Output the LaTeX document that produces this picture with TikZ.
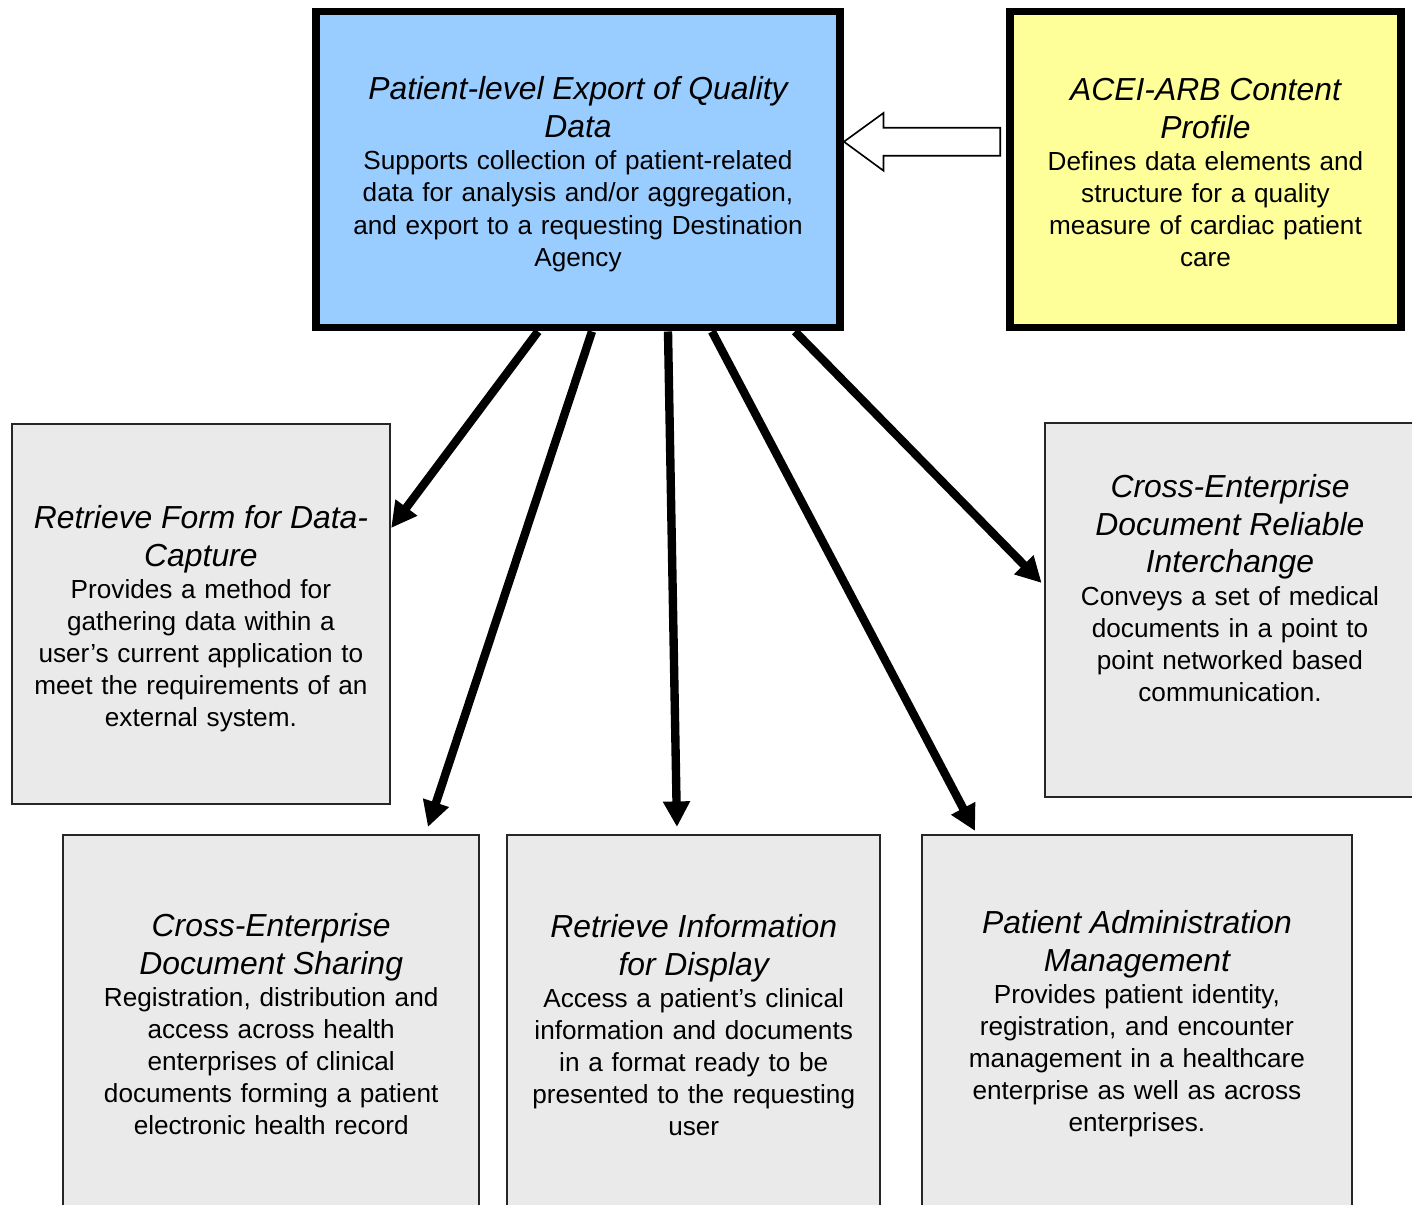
\documentclass[tikz,border=0pt]{standalone}
\usepackage{fontspec}
\setmainfont{Liberation Sans}
\usetikzlibrary{arrows.meta}

\definecolor{profblue}{HTML}{99CCFF}
\definecolor{profyellow}{HTML}{FFFF99}
\definecolor{actorgrey}{HTML}{EAEAEA}

\newcommand{\proftitle}{\fontsize{13.7}{16.3}\selectfont\itshape}
\newcommand{\profbody}{\fontsize{11.25}{13.8}\selectfont}

\tikzset{
  mainbox/.style={draw=black, line width=3.4pt, inner sep=0pt},
  greybox/.style={draw=black!85, line width=0.9pt, fill=actorgrey, inner sep=0pt},
  boxtext/.style={align=center, inner sep=0pt, font=\profbody},
  uses/.style={line width=3.6pt, -{Triangle[length=11pt,width=11pt]}},
  hollowarrow/.style={draw=black, line width=0.7pt, fill=white, line join=miter},
}

\begin{document}
\begin{tikzpicture}[x=0.43pt, y=-0.43pt]
\useasboundingbox (0,0) rectangle (1412,1204);
\clip (0,0) rectangle (1412,1204);
\fill[white] (0,0) rectangle (1412,1204);

% profiles
\node[mainbox, fill=profblue, minimum width=225.3pt, minimum height=135.9pt] (export) at (578,169.5) {};
\node[boxtext, text width=218pt] (exporttext) at ([yshift=-2pt]export.center)
  {{\proftitle Patient-level Export of Quality\\Data\par}Supports collection of patient-related\\data for analysis and/or aggregation,\\and export to a requesting Destination\\Agency};
\node[mainbox, fill=profyellow, minimum width=168.1pt, minimum height=135.9pt] (acei) at (1205.5,169.5) {};
\node[boxtext, text width=160pt] (aceitext) at ([yshift=-1.3pt]acei.center)
  {{\proftitle ACEI-ARB Content\\Profile\par}Defines data elements and\\structure for a quality\\measure of cardiac patient\\care};

% actors
\node[greybox, minimum width=162.7pt, minimum height=163.3pt] (form) at (200.9,614.2) {};
\node[boxtext, text width=156pt] (formtext) at ([yshift=-2pt]form.center)
  {{\proftitle Retrieve Form for Data-\\Capture\par}Provides a method for\\gathering data within a\\user’s current application to\\meet the requirements of an\\external system.};
\node[greybox, minimum width=159.1pt, minimum height=160.8pt] (xdr) at (1230,609.7) {};
\node[boxtext, text width=152pt] (xdrtext) at ([yshift=9.4pt]xdr.center)
  {{\proftitle Cross-Enterprise\\Document Reliable\\Interchange\par}Conveys a set of medical\\documents in a point to\\point networked based\\communication.};

\node[greybox, minimum width=178.8pt, minimum height=163.4pt] (xds) at (271.2,1025) {};
\node[boxtext, text width=172pt] (xdstext) at ([yshift=0.4pt]xds.center)
  {{\proftitle Cross-Enterprise\\Document Sharing\par}Registration, distribution and\\access across health\\enterprises of clinical\\documents forming a patient\\electronic health record};
\node[greybox, minimum width=160.3pt, minimum height=163.4pt] (rid) at (693.7,1025) {};
\node[boxtext, text width=154pt] (ridtext) at (rid.center)
  {{\proftitle Retrieve Information\\for Display\par}Access a patient’s clinical\\information and documents\\in a format ready to be\\presented to the requesting\\user};
\node[greybox, minimum width=184.8pt, minimum height=163.4pt] (pam) at (1136.9,1025) {};
\node[boxtext, text width=178pt] (pamtext) at ([yshift=0.6pt]pam.center)
  {{\proftitle Patient Administration\\Management\par}Provides patient identity,\\registration, and encounter\\management in a healthcare\\enterprise as well as across\\enterprises.};

% connectors
\draw[hollowarrow] (export.east |- 0,141.7) -- ++(39.5,-28.7) -- ++(0,14.7)
  -- ([xshift=-2.5pt]acei.west |- 0,127.7) -- ++(0,28)
  -- ([xshift=17pt]export.east |- 0,155.7) -- ++(0,15) -- cycle;

\draw[uses] ([xshift=-17.2pt]export.south) -- (form.east |- 0,528);
\draw[uses] ([xshift=6pt]export.south) -- ([xshift=67.4pt,yshift=3pt]xds.north);
\draw[uses] ([xshift=38.7pt]export.south) -- ([xshift=-7.2pt,yshift=3pt]rid.north);
\draw[uses] ([xshift=57.6pt]export.south) -- ([xshift=-69.6pt,yshift=1.3pt]pam.north);
\draw[uses] ([xshift=93.3pt]export.south) -- ([xshift=-1pt,yshift=11.5pt]xdr.west);
\end{tikzpicture}
\end{document}
